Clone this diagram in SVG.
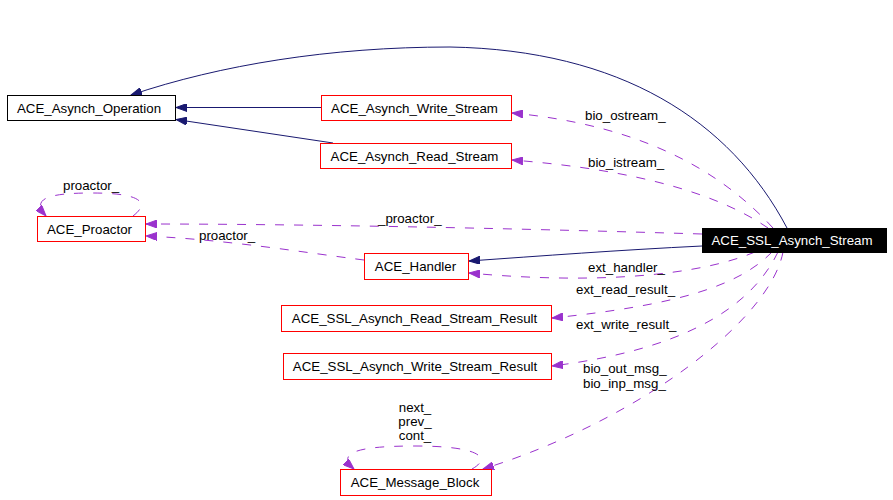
<svg xmlns="http://www.w3.org/2000/svg" width="893" height="500" viewBox="0 0 893 500">
<style>
text{font-family:"Liberation Sans",Arial,sans-serif;font-size:13.3px;fill:#000}
.n text{text-anchor:middle}
.box{fill:#fff;stroke:#ff0000;stroke-width:1}
.blk{fill:#fff;stroke:#000;stroke-width:1}
.cur{fill:#000;stroke:#000;stroke-width:1}
.inh{fill:none;stroke:#191970;stroke-width:1;marker-end:url(#an)}
.use{fill:none;stroke:#9a32cd;stroke-width:1;stroke-dasharray:9,10;marker-end:url(#ap)}
</style>
<defs>
<marker id="an" markerUnits="userSpaceOnUse" markerWidth="12" markerHeight="8" refX="11" refY="4" orient="auto" viewBox="0 0 12 8"><path d="M0,0 L11,4 L0,8 z" fill="#191970" stroke="#191970"/></marker>
<marker id="ap" markerUnits="userSpaceOnUse" markerWidth="12" markerHeight="8" refX="11" refY="4" orient="auto" viewBox="0 0 12 8"><path d="M0,0 L11,4 L0,8 z" fill="#9a32cd" stroke="#9a32cd"/></marker>
</defs>
<rect width="893" height="500" fill="#fff"/>
<g id="connectors">
<path class="inh" d="M787,228 C730,120 620,50 450,47 C330,47 220,65 131,95"/>
<path class="inh" d="M321,107.5 L176,107.5"/>
<path class="inh" d="M333,143 L176,119.5"/>
<path class="inh" d="M702,246 C620,250 540,256 469,261"/>
<path class="use" d="M773,228 C720,170 640,125 512,113"/>
<path class="use" d="M768,228 C720,195 640,170 512,160"/>
<path class="use" d="M702,234 C500,228 300,224 146,224"/>
<path class="use" d="M364,260 C300,252 230,240 146,236"/>
<path class="use" d="M133,216 C150,203 142,193 92,193 C50,193 30,198 46,216"/>
<path class="use" d="M755,252 C700,275 600,285 469,273"/>
<path class="use" d="M772,252 C740,285 680,305 552,318"/>
<path class="use" d="M778,252 C750,310 680,350 552,366"/>
<path class="use" d="M783,252 C770,320 640,420 483,469"/>
<path class="use" d="M472,469 C492,458 480,446 415,446 C360,446 335,452 354,469"/>
<text x="585" y="120">bio_ostream_</text>
<text x="588" y="166.5">bio_istream_</text>
<text x="378" y="223">_proactor_</text>
<text x="63" y="190">proactor_</text>
<text x="199" y="240">proactor_</text>
<text x="588" y="272">ext_handler_</text>
<text x="576" y="294">ext_read_result_</text>
<text x="576" y="329">ext_write_result_</text>
<text x="583" y="373">bio_out_msg_</text>
<text x="583" y="388">bio_inp_msg_</text>
<text x="415" y="412" text-anchor="middle">next_</text>
<text x="415" y="426" text-anchor="middle">prev_</text>
<text x="415" y="440" text-anchor="middle">cont_</text>
</g>
<g id="ACE_SSL_Asynch_Stream" class="n"><rect class="cur" x="702.5" y="228.5" width="184" height="24"/><text x="792" y="245" style="fill:#fff">ACE_SSL_Asynch_Stream</text></g>
<g id="ACE_Asynch_Operation" class="n"><rect class="blk" x="7.5" y="95.5" width="168" height="25"/><text x="89" y="112.5">ACE_Asynch_Operation</text></g>
<g id="ACE_Asynch_Write_Stream" class="n"><rect class="box" x="321.5" y="95.5" width="190" height="25"/><text x="414.5" y="112.5">ACE_Asynch_Write_Stream</text></g>
<g id="ACE_Asynch_Read_Stream" class="n"><rect class="box" x="320.5" y="143.5" width="191" height="25"/><text x="414.5" y="160.5">ACE_Asynch_Read_Stream</text></g>
<g id="ACE_Proactor" class="n"><rect class="box" x="37.5" y="216.5" width="108" height="25"/><text x="89.5" y="233.5">ACE_Proactor</text></g>
<g id="ACE_Handler" class="n"><rect class="box" x="364.5" y="253.5" width="104" height="26"/><text x="415.5" y="271">ACE_Handler</text></g>
<g id="ACE_SSL_Asynch_Read_Stream_Result" class="n"><rect class="box" x="281.5" y="305.5" width="270" height="26"/><text x="414.5" y="323">ACE_SSL_Asynch_Read_Stream_Result</text></g>
<g id="ACE_SSL_Asynch_Write_Stream_Result" class="n"><rect class="box" x="283.5" y="353.5" width="268" height="26"/><text x="415" y="371">ACE_SSL_Asynch_Write_Stream_Result</text></g>
<g id="ACE_Message_Block" class="n"><rect class="box" x="340.5" y="469.5" width="151" height="26"/><text x="415" y="487">ACE_Message_Block</text></g>
</svg>
